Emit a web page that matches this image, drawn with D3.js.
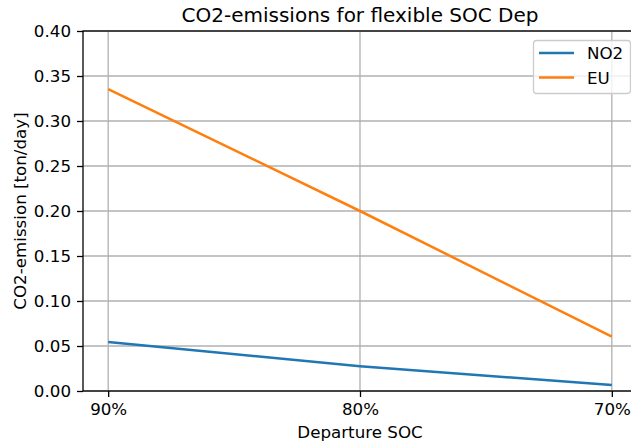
<!DOCTYPE html>
<html>
<head>
<meta charset="utf-8">
<script src="https://cdn.jsdelivr.net/npm/d3@7"></script>
<style>
  body { margin: 0; background: #fff; }
  svg { font-family: "DejaVu Sans", sans-serif; }
</style>
</head>
<body>
<svg id="chart" width="631" height="443"></svg>
<script>
// CO2-emissions for flexible SOC departure

var categories = ["90%", "80%", "70%"];
var no2Values = [0.0545, 0.0275, 0.0067];
var euValues = [0.3355, 0.200, 0.0605];
var yTicks = [0, 0.05, 0.10, 0.15, 0.20, 0.25, 0.30, 0.35, 0.40];

var series = [
  { name: "NO2", values: no2Values, color: "#1f77b4" },
  { name: "EU", values: euValues, color: "#ff7f0e" }
];

var svg = d3.select("#chart");
var plotLeft = 83, plotRight = 637, plotTop = 31, plotBottom = 391;
var fontSize = "16.7px";

// x: categorical index with matplotlib-like 5% margins
var x = d3.scaleLinear().domain([-0.1, categories.length - 1 + 0.1]).range([plotLeft, plotRight]);
var y = d3.scaleLinear().domain([0, 0.4]).range([plotBottom, plotTop]);

// grid
var grid = svg.append("g").attr("stroke", "#b0b0b0").attr("stroke-width", 1.3);
grid.selectAll(".gy").data(yTicks).enter().append("line")
  .attr("x1", plotLeft).attr("x2", plotRight)
  .attr("y1", function (d) { return y(d); })
  .attr("y2", function (d) { return y(d); });
grid.selectAll(".gx").data(categories).enter().append("line")
  .attr("y1", plotTop).attr("y2", plotBottom)
  .attr("x1", function (d, i) { return x(i); })
  .attr("x2", function (d, i) { return x(i); });

// axes
var xAxis = d3.axisBottom(x)
  .tickValues(d3.range(categories.length))
  .tickFormat(function (i) { return categories[i]; })
  .tickSizeOuter(0).tickSize(6).tickPadding(6);
var yAxis = d3.axisLeft(y)
  .tickValues(yTicks)
  .tickFormat(d3.format(".2f"))
  .tickSizeOuter(0).tickSize(6).tickPadding(6);

var gx = svg.append("g").attr("transform", "translate(0," + plotBottom + ")").call(xAxis);
var gy = svg.append("g").attr("transform", "translate(" + plotLeft + ",0)").call(yAxis);
[gx, gy].forEach(function (g) {
  g.attr("font-size", null).attr("font-family", null);
  g.selectAll("text").attr("font-size", fontSize).attr("fill", "#000");
  g.selectAll("line").attr("stroke", "#000").attr("stroke-width", 1.3);
  g.select(".domain").remove();
});

// spines
svg.append("rect")
  .attr("x", plotLeft).attr("y", plotTop)
  .attr("width", plotRight - plotLeft).attr("height", plotBottom - plotTop)
  .attr("fill", "none").attr("stroke", "#000").attr("stroke-width", 1.3);

// lines
var line = d3.line()
  .x(function (d, i) { return x(i); })
  .y(function (d) { return y(d); });

svg.selectAll(".series").data(series).enter().append("path")
  .attr("d", function (s) { return line(s.values); })
  .attr("fill", "none")
  .attr("stroke", function (s) { return s.color; })
  .attr("stroke-width", 2.5);

// title and labels
svg.append("text").attr("x", (plotLeft + plotRight) / 2).attr("y", 22)
  .attr("text-anchor", "middle").attr("font-size", "20px")
  .text("CO2-emissions for flexible SOC Dep");
svg.append("text").attr("x", (plotLeft + plotRight) / 2).attr("y", 438)
  .attr("text-anchor", "middle").attr("font-size", fontSize)
  .text("Departure SOC");
svg.append("text")
  .attr("transform", "translate(25.5," + ((plotTop + plotBottom) / 2) + ") rotate(-90)")
  .attr("text-anchor", "middle").attr("font-size", fontSize)
  .text("CO2-emission [ton/day]");

// legend
var legend = svg.append("g").attr("transform", "translate(533,40)");
legend.append("rect")
  .attr("x", 0.5).attr("y", 0.5)
  .attr("width", 97).attr("height", 53).attr("rx", 3)
  .attr("fill", "#fff").attr("fill-opacity", 0.8)
  .attr("stroke", "#ccc").attr("stroke-width", 1.3);
var items = legend.selectAll(".item").data(series).enter().append("g")
  .attr("transform", function (d, i) { return "translate(0," + (13 + i * 24.5) + ")"; });
items.append("line")
  .attr("x1", 6).attr("x2", 41).attr("y1", 0).attr("y2", 0)
  .attr("stroke", function (d) { return d.color; }).attr("stroke-width", 2.5);
items.append("text").attr("x", 54).attr("y", 6)
  .attr("font-size", fontSize).text(function (d) { return d.name; });
</script>
</body>
</html>
